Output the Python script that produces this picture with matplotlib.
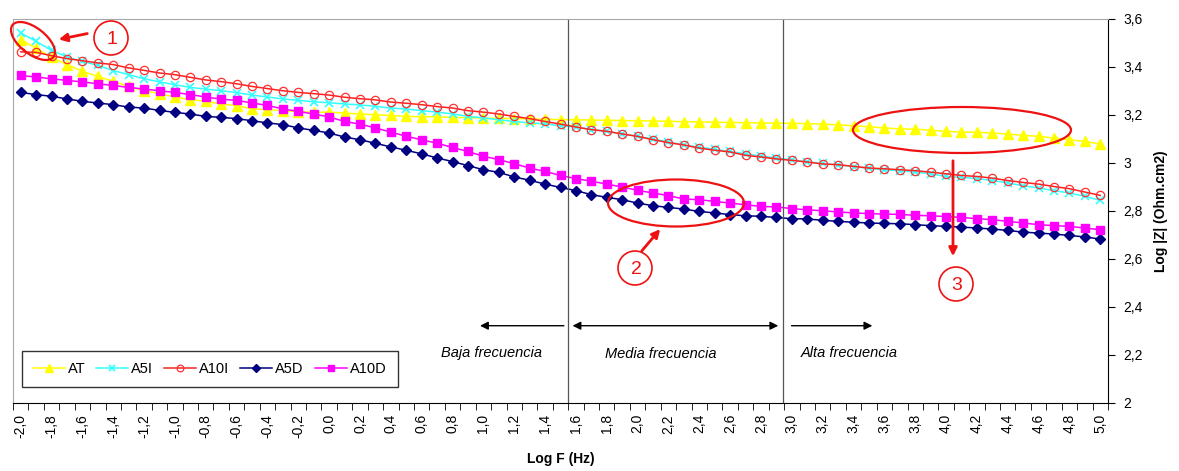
import matplotlib
matplotlib.use("Agg")
import matplotlib.pyplot as plt
import numpy as np
from matplotlib.patches import Ellipse, Circle
from matplotlib.ticker import FixedLocator, FuncFormatter

plt.rcParams["font.family"] = ["Liberation Sans", "DejaVu Sans"]

# log F from -2.0 to 5.0 in steps of 0.1
log_f = [round(-2.0 + 0.1 * i, 1) for i in range(71)]

at = [3.514, 3.478, 3.440, 3.410, 3.382, 3.361, 3.340, 3.319, 3.301, 3.289, 3.275, 3.264, 3.257, 3.246, 3.239,
      3.226, 3.222, 3.218, 3.214, 3.211, 3.212, 3.208, 3.204, 3.201, 3.198, 3.194, 3.193, 3.192, 3.190,
      3.189, 3.187, 3.186, 3.185, 3.184, 3.182, 3.181, 3.180, 3.179, 3.178, 3.177, 3.176, 3.175, 3.174,
      3.172, 3.171, 3.170, 3.169, 3.168, 3.167, 3.166, 3.165, 3.164, 3.162, 3.159, 3.155, 3.151,
      3.146, 3.142, 3.141, 3.136, 3.132, 3.129, 3.128, 3.125, 3.121, 3.115, 3.111, 3.104, 3.097, 3.090, 3.079]

a5i = [3.542, 3.507, 3.469, 3.442, 3.423, 3.407, 3.385, 3.368, 3.351, 3.338, 3.326, 3.315, 3.308, 3.301, 3.293,
       3.283, 3.275, 3.267, 3.261, 3.255, 3.251, 3.246, 3.242, 3.236, 3.229, 3.225, 3.218, 3.212, 3.205,
       3.194, 3.188, 3.180, 3.173, 3.167, 3.163, 3.155, 3.150, 3.139, 3.132, 3.121, 3.111, 3.100, 3.088,
       3.075, 3.066, 3.057, 3.048, 3.038, 3.029, 3.021, 3.013, 3.005, 2.998, 2.992, 2.985, 2.978,
       2.971, 2.968, 2.962, 2.955, 2.944, 2.940, 2.935, 2.927, 2.917, 2.905, 2.896, 2.885, 2.875, 2.861, 2.844]

a10i = [3.463, 3.461, 3.447, 3.435, 3.426, 3.417, 3.410, 3.396, 3.386, 3.375, 3.368, 3.357, 3.346, 3.339, 3.330,
        3.319, 3.310, 3.301, 3.294, 3.289, 3.283, 3.274, 3.268, 3.263, 3.254, 3.249, 3.243, 3.235, 3.229,
        3.218, 3.212, 3.204, 3.194, 3.185, 3.173, 3.162, 3.150, 3.139, 3.132, 3.121, 3.111, 3.097, 3.085,
        3.075, 3.062, 3.053, 3.046, 3.032, 3.025, 3.017, 3.011, 3.004, 2.996, 2.993, 2.986, 2.979,
        2.976, 2.972, 2.968, 2.962, 2.955, 2.948, 2.944, 2.937, 2.927, 2.919, 2.912, 2.902, 2.893, 2.879, 2.865]

a5d = [3.294, 3.285, 3.278, 3.267, 3.257, 3.250, 3.243, 3.233, 3.229, 3.219, 3.211, 3.204, 3.194, 3.190, 3.185,
       3.176, 3.167, 3.160, 3.146, 3.136, 3.125, 3.108, 3.097, 3.082, 3.067, 3.053, 3.038, 3.021, 3.006,
       2.989, 2.972, 2.961, 2.942, 2.928, 2.912, 2.898, 2.885, 2.868, 2.857, 2.847, 2.833, 2.822, 2.815,
       2.808, 2.798, 2.792, 2.785, 2.780, 2.778, 2.773, 2.768, 2.767, 2.761, 2.757, 2.753, 2.750,
       2.748, 2.747, 2.743, 2.739, 2.736, 2.733, 2.729, 2.725, 2.719, 2.712, 2.708, 2.704, 2.698, 2.692, 2.683]

a10d = [3.365, 3.358, 3.351, 3.344, 3.338, 3.330, 3.323, 3.315, 3.308, 3.301, 3.294, 3.285, 3.275, 3.266, 3.261,
        3.250, 3.240, 3.225, 3.215, 3.204, 3.192, 3.173, 3.162, 3.146, 3.129, 3.111, 3.097, 3.082, 3.065,
        3.048, 3.028, 3.014, 2.997, 2.979, 2.965, 2.948, 2.935, 2.924, 2.912, 2.900, 2.886, 2.875, 2.864,
        2.850, 2.847, 2.840, 2.833, 2.826, 2.819, 2.817, 2.810, 2.805, 2.801, 2.796, 2.792, 2.789,
        2.787, 2.786, 2.782, 2.780, 2.777, 2.773, 2.768, 2.764, 2.757, 2.750, 2.743, 2.739, 2.736, 2.729, 2.722]

x_labels = [round(-2.0 + 0.2 * i, 1) for i in range(36)]
y_ticks = [2.0, 2.2, 2.4, 2.6, 2.8, 3.0, 3.2, 3.4, 3.6]
band_limits = [1.55, 2.94]

W, H = 1179, 471
fig = plt.figure(figsize=(W / 100, H / 100), dpi=100)
ax = fig.add_axes([13 / W, 68 / H, 1095 / W, 384 / H])


def comma(v, pos=None):
    if abs(v - round(v)) < 1e-9 and abs(v) >= 2 and v > 0:
        return str(int(round(v)))
    return f"{v:.1f}".replace(".", ",")


styles = [
    ("AT", at, dict(color="#ffff00", marker="^", ms=7.5, mfc="#ffff00", mec="#ffff00")),
    ("A5I", a5i, dict(color="#33ffff", marker="x", ms=6, mew=1.2)),
    ("A10I", a10i, dict(color="#ff2020", marker="o", ms=6, mfc="none", mec="#ff3030", mew=0.9)),
    ("A5D", a5d, dict(color="#000080", marker="D", ms=5, mfc="#000080", mec="#000080")),
    ("A10D", a10d, dict(color="#ff00ff", marker="s", ms=6, mfc="#ff00ff", mec="#ff00ff")),
]
for name, vals, kw in styles:
    ax.plot(log_f, vals, lw=1.1, label=name, **kw)

ax.set_xlim(-2.05, 5.05)
ax.set_ylim(2.0, 3.6)

# x axis: labels at category centres, tick marks between categories
ax.xaxis.set_major_locator(FixedLocator(x_labels))
ax.xaxis.set_major_formatter(FuncFormatter(lambda v, p: f"{v:.1f}".replace(".", ",")))
ax.xaxis.set_minor_locator(FixedLocator([-2.05 + 0.1 * i for i in range(72)]))
ax.tick_params(axis="x", which="major", length=0, pad=8, labelsize=10, labelrotation=90)
ax.tick_params(axis="x", which="minor", length=5, direction="out", color="black")

ax.yaxis.tick_right()
ax.yaxis.set_label_position("right")
ax.set_yticks(y_ticks)
ax.yaxis.set_major_formatter(FuncFormatter(comma))
ax.tick_params(axis="y", length=5, direction="out", labelsize=10, pad=6)

for side in ["left", "top"]:
    ax.spines[side].set_color("#a8a8a8")
for side in ["bottom", "right"]:
    ax.spines[side].set_color("black")

ax.set_xlabel("Log F (Hz)", fontsize=10, fontweight="bold", labelpad=10)
ax.set_ylabel("Log |Z| (Ohm.cm2)", fontsize=10, fontweight="bold", labelpad=8)

for xb in band_limits:
    ax.axvline(xb, color="#555555", lw=0.9)

# frequency band arrows and labels
ya = 2.322
arr = dict(arrowstyle="-|>", color="black", lw=1.0, mutation_scale=12)
ax.annotate("", xy=(0.96, ya), xytext=(1.54, ya), arrowprops=arr)
ax.annotate("", xy=(2.93, ya), xytext=(1.56, ya),
            arrowprops=dict(arrowstyle="<|-|>", color="black", lw=1.0, mutation_scale=12))
ax.annotate("", xy=(3.54, ya), xytext=(2.98, ya), arrowprops=arr)
ax.text(1.05, 2.21, "Baja frecuencia", fontsize=10.5, style="italic", ha="center", va="center")
ax.text(2.15, 2.205, "Media frecuencia", fontsize=10.5, style="italic", ha="center", va="center")
ax.text(3.37, 2.21, "Alta frecuencia", fontsize=10.5, style="italic", ha="center", va="center")

leg = ax.legend(loc="lower left", bbox_to_anchor=(0.008, 0.042), ncol=5, fontsize=10.5,
                frameon=True, fancybox=False, edgecolor="black", borderaxespad=0,
                handlelength=2.2, handletextpad=0.2, columnspacing=0.75, markerscale=0.8,
                borderpad=0.75)
leg.get_frame().set_linewidth(1.0)

# red hand-drawn marks, placed in picture pixels (top-left origin)
tr = fig.dpi_scale_trans


def p(x, y):
    return (x / 100, (H - y) / 100)


red = "#ee1111"
fig.patches.append(Ellipse(p(33, 41), 52 / 100, 26 / 100, angle=-38, transform=tr,
                           fill=False, ec=red, lw=1.6))
fig.patches.append(Ellipse(p(676, 203), 136 / 100, 47 / 100, transform=tr,
                           fill=False, ec=red, lw=1.6))
fig.patches.append(Ellipse(p(962, 130), 218 / 100, 46 / 100, transform=tr,
                           fill=False, ec=red, lw=1.6))
for (cx, cy), num in [((111, 38), "1"), ((635, 268), "2"), ((956, 284), "3")]:
    fig.patches.append(Circle(p(cx, cy), 17 / 100, transform=tr, fill=False, ec=red, lw=1.2))
    fig.text(*p(cx + 1, cy + 1), num, transform=tr, color=red, fontsize=14,
             ha="center", va="center")

red_arr = dict(arrowstyle="-|>", color=red, lw=2.0, mutation_scale=12)
ax.annotate("", xy=p(56, 40), xycoords=tr, xytext=p(90, 33), textcoords=tr,
            arrowprops=red_arr, annotation_clip=False)
ax.annotate("", xy=p(662, 227), xycoords=tr, xytext=p(640, 253), textcoords=tr,
            arrowprops=red_arr, annotation_clip=False)
ax.annotate("", xy=p(953, 259), xycoords=tr, xytext=p(953, 158), textcoords=tr,
            arrowprops=red_arr, annotation_clip=False)

fig.savefig("out.png", dpi=100)
